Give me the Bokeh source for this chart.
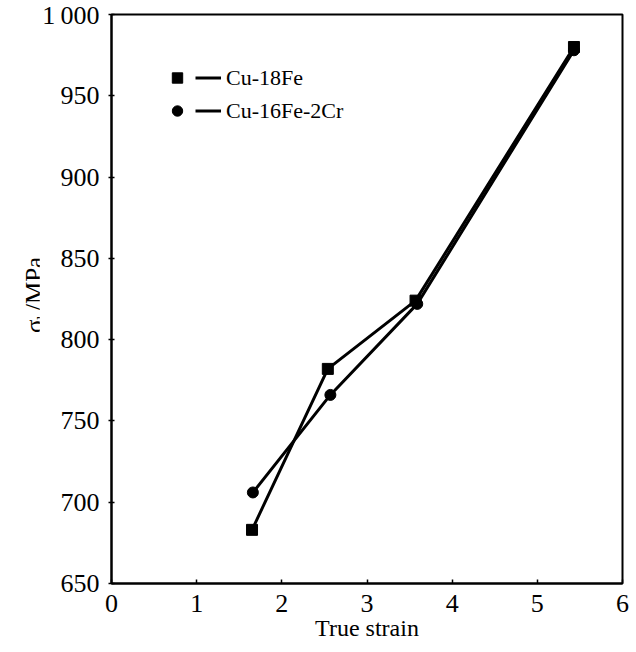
from bokeh.plotting import figure
from bokeh.models import Legend, LegendItem, Range1d, FixedTicker, Div
from bokeh.layouts import row
from bokeh.embed import file_html
from bokeh.resources import INLINE

# Data
strain_fe = [1.65, 2.54, 3.57, 5.43]
sigma_fe = [683, 782, 824, 980]
strain_cr = [1.66, 2.57, 3.59, 5.43]
sigma_cr = [706, 766, 822, 978]
series_names = ["Cu-18Fe", "Cu-16Fe-2Cr"]
x_ticks = [0, 1, 2, 3, 4, 5, 6]
y_ticks = [650, 700, 750, 800, 850, 900, 950, 1000]
y_tick_overrides = {1000: "1\u2009000"}
x_title = "True strain"
y_title_html = "\u03c3<sub style='font-size:17px'>b</sub>/MPa"

FONT = "Liberation Serif"

p = figure(width=591, height=652, output_backend="svg", toolbar_location=None,
           x_range=Range1d(0, 6), y_range=Range1d(650, 1000),
           min_border_left=72, min_border_right=8, min_border_top=14,
           min_border_bottom=69)

p.grid.visible = False
p.outline_line_color = "black"
p.outline_line_width = 2
p.background_fill_color = "white"
p.border_fill_color = "white"

xa = p.below[0]
ya = p.left[0]
for ax in (xa, ya):
    ax.axis_line_width = 2
    ax.axis_line_color = "black"
    ax.major_tick_line_color = "black"
    ax.major_tick_line_width = 1.5
    ax.minor_tick_line_color = None
    ax.major_label_text_font = FONT
    ax.major_label_text_font_size = "26px"
    ax.major_label_text_color = "black"

xa.ticker = FixedTicker(ticks=x_ticks)
ya.ticker = FixedTicker(ticks=y_ticks)
ya.major_label_overrides = y_tick_overrides
xa.major_tick_in = 4
xa.major_tick_out = 0
ya.major_tick_in = 3
ya.major_tick_out = 3
xa.major_label_standoff = 11
ya.major_label_standoff = 9

xa.axis_label = x_title
xa.axis_label_text_font = FONT
xa.axis_label_text_font_size = "24px"
xa.axis_label_text_font_style = "normal"
xa.axis_label_standoff = 0
xa.axis_label_text_color = "black"

l1 = p.line(strain_fe, sigma_fe, line_color="black", line_width=3)
s1 = p.scatter(strain_fe, sigma_fe, marker="square", size=11, fill_color="black", line_color="black")
l2 = p.line(strain_cr, sigma_cr, line_color="black", line_width=3)
c2 = p.scatter(strain_cr, sigma_cr, marker="circle", size=11, fill_color="black", line_color="black")

legend = Legend(items=[
    LegendItem(label="", renderers=[s1]),
    LegendItem(label="", renderers=[c2]),
    LegendItem(label=series_names[0], renderers=[l1]),
    LegendItem(label=series_names[1], renderers=[l2]),
], location=(53, 456), nrows=2, ncols=2, orientation="vertical",
    glyph_width=26, glyph_height=33, label_width=0, label_height=33,
    label_standoff=5, spacing=0,
    padding=0, margin=0, border_line_color=None, background_fill_alpha=0,
    label_text_font=FONT, label_text_font_size="22px", label_text_color="black")
p.add_layout(legend)

# y-axis title (rotated HTML text, supports the subscript)
ylab = Div(
    text=("<div style=\"position:absolute; left:20px; top:333px; "
          "transform:rotate(-90deg); transform-origin:left top; white-space:nowrap; "
          "font-family:Liberation Serif, Times New Roman, serif; font-size:25px; "
          "line-height:29px; color:black;\">"
          + y_title_html + "</div>"),
    width=39, height=652, margin=0)

layout = row(ylab, p, spacing=0)
open("out.html", "w").write(file_html(layout, INLINE))
